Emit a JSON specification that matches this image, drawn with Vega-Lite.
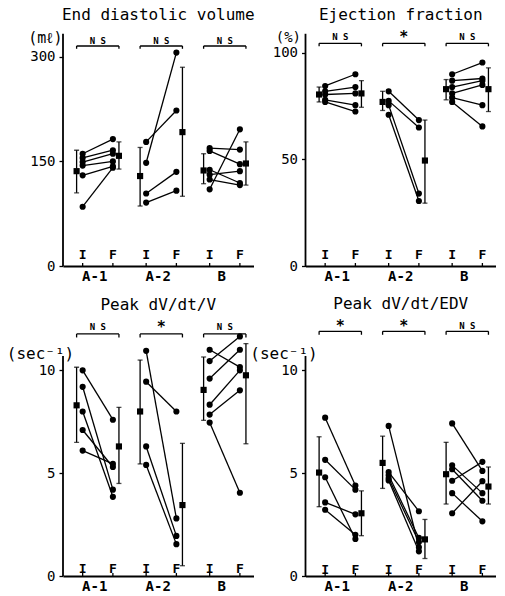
{
  "$schema": "https://vega.github.io/schema/vega-lite/v6.json",
  "padding": {"left": 6, "top": 7, "right": 0, "bottom": 0},
  "config": {
    "view": {"stroke": null},
    "font": "DejaVu Sans Mono",
    "title": {"font": "DejaVu Sans Mono", "fontSize": 16, "fontWeight": "normal", "color": "black", "offset": 7, "anchor": "middle", "frame": "group"},
    "axis": {"labelFont": "DejaVu Sans Mono", "labelColor": "black", "titleFont": "DejaVu Sans Mono", "titleColor": "black", "grid": false},
    "axisX": {"ticks": false, "domainColor": "black", "domainWidth": 1.8, "labelFontSize": 14, "labelFontWeight": "bold", "labelPadding": 3, "labelAngle": 0},
    "axisY": {"domain": false, "tickSize": 4, "tickWidth": 1.3, "tickColor": "black", "labelFontSize": 14, "labelPadding": 4, "titleAngle": 0, "titleBaseline": "middle", "titleFontSize": 15, "titleFontWeight": "normal"},
    "line": {"color": "black", "strokeWidth": 1.3},
    "rule": {"color": "black", "strokeWidth": 1.3},
    "circle": {"color": "black", "opacity": 1, "size": 38},
    "square": {"color": "black", "opacity": 1, "size": 38},
    "tick": {"color": "black", "thickness": 1.3},
    "text": {"font": "DejaVu Sans Mono", "color": "black"}
  },
  "datasets": {
    "ends": [
      {"g": "A-1", "ph": "mI"}, {"g": "A-1", "ph": "mF"},
      {"g": "A-2", "ph": "mI"}, {"g": "A-2", "ph": "mF"},
      {"g": "B", "ph": "mI"}, {"g": "B", "ph": "mF"}
    ],
    "phases": [
      {"g": "A-1", "ph": "I", "lab": "I"}, {"g": "A-1", "ph": "F", "lab": "F"},
      {"g": "A-2", "ph": "I", "lab": "I"}, {"g": "A-2", "ph": "F", "lab": "F"},
      {"g": "B", "ph": "I", "lab": "I"}, {"g": "B", "ph": "F", "lab": "F"}
    ],
    "edv_pts": [
      {"id": "1a", "g": "A-1", "ph": "I", "v": 161}, {"id": "1a", "g": "A-1", "ph": "F", "v": 182},
      {"id": "1b", "g": "A-1", "ph": "I", "v": 155}, {"id": "1b", "g": "A-1", "ph": "F", "v": 166},
      {"id": "1c", "g": "A-1", "ph": "I", "v": 149}, {"id": "1c", "g": "A-1", "ph": "F", "v": 161},
      {"id": "1d", "g": "A-1", "ph": "I", "v": 144}, {"id": "1d", "g": "A-1", "ph": "F", "v": 150},
      {"id": "1e", "g": "A-1", "ph": "I", "v": 130}, {"id": "1e", "g": "A-1", "ph": "F", "v": 143},
      {"id": "1f", "g": "A-1", "ph": "I", "v": 85}, {"id": "1f", "g": "A-1", "ph": "F", "v": 141},
      {"id": "2a", "g": "A-2", "ph": "I", "v": 178}, {"id": "2a", "g": "A-2", "ph": "F", "v": 223},
      {"id": "2b", "g": "A-2", "ph": "I", "v": 148}, {"id": "2b", "g": "A-2", "ph": "F", "v": 306},
      {"id": "2c", "g": "A-2", "ph": "I", "v": 104}, {"id": "2c", "g": "A-2", "ph": "F", "v": 135},
      {"id": "2d", "g": "A-2", "ph": "I", "v": 91}, {"id": "2d", "g": "A-2", "ph": "F", "v": 108},
      {"id": "3a", "g": "B", "ph": "I", "v": 169}, {"id": "3a", "g": "B", "ph": "F", "v": 167},
      {"id": "3b", "g": "B", "ph": "I", "v": 165}, {"id": "3b", "g": "B", "ph": "F", "v": 146},
      {"id": "3c", "g": "B", "ph": "I", "v": 138}, {"id": "3c", "g": "B", "ph": "F", "v": 119},
      {"id": "3d", "g": "B", "ph": "I", "v": 131}, {"id": "3d", "g": "B", "ph": "F", "v": 136},
      {"id": "3e", "g": "B", "ph": "I", "v": 124}, {"id": "3e", "g": "B", "ph": "F", "v": 116},
      {"id": "3f", "g": "B", "ph": "I", "v": 110}, {"id": "3f", "g": "B", "ph": "F", "v": 196}
    ],
    "edv_mean": [
      {"g": "A-1", "ph": "mI", "m": 136, "lo": 105, "hi": 166},
      {"g": "A-1", "ph": "mF", "m": 158, "lo": 139, "hi": 178},
      {"g": "A-2", "ph": "mI", "m": 129, "lo": 86, "hi": 170},
      {"g": "A-2", "ph": "mF", "m": 192, "lo": 100, "hi": 285},
      {"g": "B", "ph": "mI", "m": 137, "lo": 118, "hi": 161},
      {"g": "B", "ph": "mF", "m": 147, "lo": 116, "hi": 178}
    ],
    "edv_sig": [
      {"g": "A-1", "ph": "mid", "lab": "N S"}, {"g": "A-2", "ph": "mid", "lab": "N S"}, {"g": "B", "ph": "mid", "lab": "N S"}
    ],
    "ef_pts": [
      {"id": "1a", "g": "A-1", "ph": "I", "v": 84.5}, {"id": "1a", "g": "A-1", "ph": "F", "v": 90},
      {"id": "1b", "g": "A-1", "ph": "I", "v": 82}, {"id": "1b", "g": "A-1", "ph": "F", "v": 84},
      {"id": "1c", "g": "A-1", "ph": "I", "v": 80.5}, {"id": "1c", "g": "A-1", "ph": "F", "v": 81},
      {"id": "1d", "g": "A-1", "ph": "I", "v": 78}, {"id": "1d", "g": "A-1", "ph": "F", "v": 75.5},
      {"id": "1e", "g": "A-1", "ph": "I", "v": 77}, {"id": "1e", "g": "A-1", "ph": "F", "v": 72.5},
      {"id": "2a", "g": "A-2", "ph": "I", "v": 82}, {"id": "2a", "g": "A-2", "ph": "F", "v": 68.5},
      {"id": "2b", "g": "A-2", "ph": "I", "v": 77.5}, {"id": "2b", "g": "A-2", "ph": "F", "v": 65},
      {"id": "2c", "g": "A-2", "ph": "I", "v": 75.5}, {"id": "2c", "g": "A-2", "ph": "F", "v": 34},
      {"id": "2d", "g": "A-2", "ph": "I", "v": 71}, {"id": "2d", "g": "A-2", "ph": "F", "v": 30.5},
      {"id": "3a", "g": "B", "ph": "I", "v": 90}, {"id": "3a", "g": "B", "ph": "F", "v": 95.5},
      {"id": "3b", "g": "B", "ph": "I", "v": 87}, {"id": "3b", "g": "B", "ph": "F", "v": 88},
      {"id": "3c", "g": "B", "ph": "I", "v": 84}, {"id": "3c", "g": "B", "ph": "F", "v": 87},
      {"id": "3d", "g": "B", "ph": "I", "v": 81}, {"id": "3d", "g": "B", "ph": "F", "v": 85},
      {"id": "3e", "g": "B", "ph": "I", "v": 79}, {"id": "3e", "g": "B", "ph": "F", "v": 75.5},
      {"id": "3f", "g": "B", "ph": "I", "v": 77}, {"id": "3f", "g": "B", "ph": "F", "v": 65.5}
    ],
    "ef_mean": [
      {"g": "A-1", "ph": "mI", "m": 80.5, "lo": 77, "hi": 84},
      {"g": "A-1", "ph": "mF", "m": 81, "lo": 74.5, "hi": 87},
      {"g": "A-2", "ph": "mI", "m": 77, "lo": 73, "hi": 82},
      {"g": "A-2", "ph": "mF", "m": 49.5, "lo": 29.5, "hi": 68.5},
      {"g": "B", "ph": "mI", "m": 83, "lo": 78, "hi": 87.5},
      {"g": "B", "ph": "mF", "m": 83, "lo": 72.5, "hi": 93}
    ],
    "ef_sig": [
      {"g": "A-1", "ph": "mid", "lab": "N S"}, {"g": "A-2", "ph": "mid", "lab": "*"}, {"g": "B", "ph": "mid", "lab": "N S"}
    ],
    "v_pts": [
      {"id": "1a", "g": "A-1", "ph": "I", "v": 10.0}, {"id": "1a", "g": "A-1", "ph": "F", "v": 7.6},
      {"id": "1b", "g": "A-1", "ph": "I", "v": 9.2}, {"id": "1b", "g": "A-1", "ph": "F", "v": 4.2},
      {"id": "1c", "g": "A-1", "ph": "I", "v": 8.0}, {"id": "1c", "g": "A-1", "ph": "F", "v": 3.85},
      {"id": "1d", "g": "A-1", "ph": "I", "v": 7.1}, {"id": "1d", "g": "A-1", "ph": "F", "v": 5.3},
      {"id": "1e", "g": "A-1", "ph": "I", "v": 6.1}, {"id": "1e", "g": "A-1", "ph": "F", "v": 5.45},
      {"id": "2a", "g": "A-2", "ph": "I", "v": 10.95}, {"id": "2a", "g": "A-2", "ph": "F", "v": 2.8},
      {"id": "2b", "g": "A-2", "ph": "I", "v": 9.45}, {"id": "2b", "g": "A-2", "ph": "F", "v": 8.0},
      {"id": "2c", "g": "A-2", "ph": "I", "v": 6.3}, {"id": "2c", "g": "A-2", "ph": "F", "v": 1.95},
      {"id": "2d", "g": "A-2", "ph": "I", "v": 5.4}, {"id": "2d", "g": "A-2", "ph": "F", "v": 1.55},
      {"id": "3a", "g": "B", "ph": "I", "v": 11.0}, {"id": "3a", "g": "B", "ph": "F", "v": 10.16},
      {"id": "3b", "g": "B", "ph": "I", "v": 10.45}, {"id": "3b", "g": "B", "ph": "F", "v": 11.65},
      {"id": "3c", "g": "B", "ph": "I", "v": 9.6}, {"id": "3c", "g": "B", "ph": "F", "v": 11.0},
      {"id": "3d", "g": "B", "ph": "I", "v": 8.33}, {"id": "3d", "g": "B", "ph": "F", "v": 10.0},
      {"id": "3e", "g": "B", "ph": "I", "v": 7.85}, {"id": "3e", "g": "B", "ph": "F", "v": 9.03},
      {"id": "3f", "g": "B", "ph": "I", "v": 7.46}, {"id": "3f", "g": "B", "ph": "F", "v": 4.05}
    ],
    "v_mean": [
      {"g": "A-1", "ph": "mI", "m": 8.3, "lo": 6.5, "hi": 10.15},
      {"g": "A-1", "ph": "mF", "m": 6.3, "lo": 4.5, "hi": 8.2},
      {"g": "A-2", "ph": "mI", "m": 8.0, "lo": 5.45, "hi": 10.5},
      {"g": "A-2", "ph": "mF", "m": 3.45, "lo": 0.5, "hi": 6.45},
      {"g": "B", "ph": "mI", "m": 9.05, "lo": 7.57, "hi": 10.65},
      {"g": "B", "ph": "mF", "m": 9.76, "lo": 6.43, "hi": 11.3}
    ],
    "v_sig": [
      {"g": "A-1", "ph": "mid", "lab": "N S"}, {"g": "A-2", "ph": "mid", "lab": "*"}, {"g": "B", "ph": "mid", "lab": "N S"}
    ],
    "r_pts": [
      {"id": "1a", "g": "A-1", "ph": "I", "v": 7.7}, {"id": "1a", "g": "A-1", "ph": "F", "v": 4.4},
      {"id": "1b", "g": "A-1", "ph": "I", "v": 5.65}, {"id": "1b", "g": "A-1", "ph": "F", "v": 4.2},
      {"id": "1c", "g": "A-1", "ph": "I", "v": 4.8}, {"id": "1c", "g": "A-1", "ph": "F", "v": 1.8},
      {"id": "1d", "g": "A-1", "ph": "I", "v": 3.58}, {"id": "1d", "g": "A-1", "ph": "F", "v": 3.0},
      {"id": "1e", "g": "A-1", "ph": "I", "v": 3.22}, {"id": "1e", "g": "A-1", "ph": "F", "v": 2.0},
      {"id": "2a", "g": "A-2", "ph": "I", "v": 7.3}, {"id": "2a", "g": "A-2", "ph": "F", "v": 1.4},
      {"id": "2b", "g": "A-2", "ph": "I", "v": 5.05}, {"id": "2b", "g": "A-2", "ph": "F", "v": 3.15},
      {"id": "2c", "g": "A-2", "ph": "I", "v": 4.9}, {"id": "2c", "g": "A-2", "ph": "F", "v": 1.85},
      {"id": "2d", "g": "A-2", "ph": "I", "v": 4.75}, {"id": "2d", "g": "A-2", "ph": "F", "v": 1.65},
      {"id": "2e", "g": "A-2", "ph": "I", "v": 4.65}, {"id": "2e", "g": "A-2", "ph": "F", "v": 1.2},
      {"id": "3a", "g": "B", "ph": "I", "v": 7.42}, {"id": "3a", "g": "B", "ph": "F", "v": 5.11},
      {"id": "3b", "g": "B", "ph": "I", "v": 5.38}, {"id": "3b", "g": "B", "ph": "F", "v": 4.03},
      {"id": "3c", "g": "B", "ph": "I", "v": 5.19}, {"id": "3c", "g": "B", "ph": "F", "v": 3.66},
      {"id": "3d", "g": "B", "ph": "I", "v": 4.63}, {"id": "3d", "g": "B", "ph": "F", "v": 5.55},
      {"id": "3e", "g": "B", "ph": "I", "v": 4.03}, {"id": "3e", "g": "B", "ph": "F", "v": 2.66},
      {"id": "3f", "g": "B", "ph": "I", "v": 3.05}, {"id": "3f", "g": "B", "ph": "F", "v": 4.61}
    ],
    "r_mean": [
      {"g": "A-1", "ph": "mI", "m": 5.03, "lo": 3.37, "hi": 6.77},
      {"g": "A-1", "ph": "mF", "m": 3.05, "lo": 1.96, "hi": 4.14},
      {"g": "A-2", "ph": "mI", "m": 5.5, "lo": 4.26, "hi": 6.8},
      {"g": "A-2", "ph": "mF", "m": 1.78, "lo": 0.85, "hi": 2.75},
      {"g": "B", "ph": "mI", "m": 4.95, "lo": 3.5, "hi": 6.5},
      {"g": "B", "ph": "mF", "m": 4.35, "lo": 3.5, "hi": 5.3}
    ],
    "r_sig": [
      {"g": "A-1", "ph": "mid", "lab": "*"}, {"g": "A-2", "ph": "mid", "lab": "*"}, {"g": "B", "ph": "mid", "lab": "N S"}
    ]
  },
  "columns": 2,
  "bounds": "flush",
  "spacing": {"column": 51.5, "row": 55},
  "concat": [
    {
      "width": 190.5, "height": 235,
      "title": {"text": "End diastolic volume"},
      "encoding": {
        "x": {"field": "g", "type": "nominal", "scale": {"domain": ["A-1", "A-2", "B"], "paddingInner": 0, "paddingOuter": 0}, "axis": {"title": null}},
        "xOffset": {"field": "ph", "type": "nominal", "scale": {"domain": ["0","1","2","3","mI","5","I","7","8","9","10","mid","12","13","14","15","F","17","mF","19","20"], "paddingInner": 0, "paddingOuter": 0}}
      },
      "layer": [
        {"data": {"name": "edv_pts"}, "mark": "line",
         "encoding": {"y": {"field": "v", "type": "quantitative", "scale": {"domain": [0, 337], "nice": false, "zero": false},
           "axis": {"values": [0, 150, 300], "title": "(mℓ)", "titleAlign": "right", "titleX": -1, "titleY": 6}},
           "detail": {"field": "id"}}},
        {"data": {"name": "edv_pts"}, "mark": "circle", "encoding": {"y": {"field": "v", "type": "quantitative"}}},
        {"data": {"name": "edv_mean"}, "mark": "rule", "encoding": {"y": {"field": "lo", "type": "quantitative"}, "y2": {"field": "hi"}}},
        {"data": {"name": "edv_mean"}, "mark": {"type": "tick", "orient": "horizontal", "size": 5}, "encoding": {"y": {"field": "lo", "type": "quantitative"}}},
        {"data": {"name": "edv_mean"}, "mark": {"type": "tick", "orient": "horizontal", "size": 5}, "encoding": {"y": {"field": "hi", "type": "quantitative"}}},
        {"data": {"name": "edv_mean"}, "mark": "square", "encoding": {"y": {"field": "m", "type": "quantitative"}}},
        {"data": {"name": "ends"}, "mark": "line", "encoding": {"y": {"datum": 315.5}, "detail": {"field": "g"}}},
        {"data": {"name": "ends"}, "mark": "rule", "encoding": {"y": {"datum": 311.5}, "y2": {"datum": 315.5}}},
        {"data": {"name": "edv_sig"}, "mark": {"type": "text", "fontWeight": "bold", "baseline": "middle"},
         "encoding": {"y": {"datum": 322.5}, "text": {"field": "lab"}, "size": {"condition": {"test": "datum.lab === '*'", "value": 15}, "value": 9}}},
        {"data": {"name": "phases"}, "mark": {"type": "text", "fontSize": 13, "fontWeight": "bold", "baseline": "middle"},
         "encoding": {"y": {"datum": 16}, "text": {"field": "lab"}}},
        {"data": {"name": "phases"}, "mark": "rule", "encoding": {"y": {"datum": 0}, "y2": {"datum": 4.3}}},
        {"data": {"values": [{}]}, "mark": {"type": "rule", "strokeWidth": 1.8},
         "encoding": {"x": {"datum": "A-1", "bandPosition": 0}, "xOffset": {"value": 0}, "y": {"datum": 0}, "y2": {"datum": 333}}}
      ]
    },
    {
      "width": 190.5, "height": 235,
      "title": {"text": "Ejection fraction"},
      "encoding": {
        "x": {"field": "g", "type": "nominal", "scale": {"domain": ["A-1", "A-2", "B"], "paddingInner": 0, "paddingOuter": 0}, "axis": {"title": null}},
        "xOffset": {"field": "ph", "type": "nominal", "scale": {"domain": ["0","1","2","3","mI","5","I","7","8","9","10","mid","12","13","14","15","F","17","mF","19","20"], "paddingInner": 0, "paddingOuter": 0}}
      },
      "layer": [
        {"data": {"name": "ef_pts"}, "mark": "line",
         "encoding": {"y": {"field": "v", "type": "quantitative", "scale": {"domain": [0, 110.3], "nice": false, "zero": false},
           "axis": {"values": [0, 50, 100], "title": "(%)", "titleAlign": "right", "titleX": -5, "titleY": 6, "titleFontSize": 14}},
           "detail": {"field": "id"}}},
        {"data": {"name": "ef_pts"}, "mark": "circle", "encoding": {"y": {"field": "v", "type": "quantitative"}}},
        {"data": {"name": "ef_mean"}, "mark": "rule", "encoding": {"y": {"field": "lo", "type": "quantitative"}, "y2": {"field": "hi"}}},
        {"data": {"name": "ef_mean"}, "mark": {"type": "tick", "orient": "horizontal", "size": 5}, "encoding": {"y": {"field": "lo", "type": "quantitative"}}},
        {"data": {"name": "ef_mean"}, "mark": {"type": "tick", "orient": "horizontal", "size": 5}, "encoding": {"y": {"field": "hi", "type": "quantitative"}}},
        {"data": {"name": "ef_mean"}, "mark": "square", "encoding": {"y": {"field": "m", "type": "quantitative"}}},
        {"data": {"name": "ends"}, "mark": "line", "encoding": {"y": {"datum": 104.5}, "detail": {"field": "g"}}},
        {"data": {"name": "ends"}, "mark": "rule", "encoding": {"y": {"datum": 103.1}, "y2": {"datum": 104.5}}},
        {"data": {"name": "ef_sig"}, "mark": {"type": "text", "fontWeight": "bold", "baseline": "middle"},
         "encoding": {"y": {"datum": 107.3}, "text": {"field": "lab"}, "size": {"condition": {"test": "datum.lab === '*'", "value": 15}, "value": 9}}},
        {"data": {"name": "phases"}, "mark": {"type": "text", "fontSize": 13, "fontWeight": "bold", "baseline": "middle"},
         "encoding": {"y": {"datum": 5.2}, "text": {"field": "lab"}}},
        {"data": {"name": "phases"}, "mark": "rule", "encoding": {"y": {"datum": 0}, "y2": {"datum": 1.4}}},
        {"data": {"values": [{}]}, "mark": {"type": "rule", "strokeWidth": 1.8},
         "encoding": {"x": {"datum": "A-1", "bandPosition": 0}, "xOffset": {"value": 0}, "y": {"datum": 0}, "y2": {"datum": 109}}}
      ]
    },
    {
      "width": 190.5, "height": 255,
      "title": {"text": "Peak dV/dt/V"},
      "encoding": {
        "x": {"field": "g", "type": "nominal", "scale": {"domain": ["A-1", "A-2", "B"], "paddingInner": 0, "paddingOuter": 0}, "axis": {"title": null}},
        "xOffset": {"field": "ph", "type": "nominal", "scale": {"domain": ["0","1","2","3","mI","5","I","7","8","9","10","mid","12","13","14","15","F","17","mF","19","20"], "paddingInner": 0, "paddingOuter": 0}}
      },
      "layer": [
        {"data": {"name": "v_pts"}, "mark": "line",
         "encoding": {"y": {"field": "v", "type": "quantitative", "scale": {"domain": [0, 12.4], "nice": false, "zero": false},
           "axis": {"values": [0, 5, 10], "title": "(sec⁻¹)", "titleAlign": "center", "titleX": -23, "titleY": 32, "titleFontSize": 16}},
           "detail": {"field": "id"}}},
        {"data": {"name": "v_pts"}, "mark": "circle", "encoding": {"y": {"field": "v", "type": "quantitative"}}},
        {"data": {"name": "v_mean"}, "mark": "rule", "encoding": {"y": {"field": "lo", "type": "quantitative"}, "y2": {"field": "hi"}}},
        {"data": {"name": "v_mean"}, "mark": {"type": "tick", "orient": "horizontal", "size": 5}, "encoding": {"y": {"field": "lo", "type": "quantitative"}}},
        {"data": {"name": "v_mean"}, "mark": {"type": "tick", "orient": "horizontal", "size": 5}, "encoding": {"y": {"field": "hi", "type": "quantitative"}}},
        {"data": {"name": "v_mean"}, "mark": "square", "encoding": {"y": {"field": "m", "type": "quantitative"}}},
        {"data": {"name": "ends"}, "mark": "line", "encoding": {"y": {"datum": 11.77}, "detail": {"field": "g"}}},
        {"data": {"name": "ends"}, "mark": "rule", "encoding": {"y": {"datum": 11.6}, "y2": {"datum": 11.77}}},
        {"data": {"name": "v_sig"}, "mark": {"type": "text", "fontWeight": "bold", "baseline": "middle"},
         "encoding": {"y": {"datum": 12.1}, "text": {"field": "lab"}, "size": {"condition": {"test": "datum.lab === '*'", "value": 15}, "value": 9}}},
        {"data": {"name": "phases"}, "mark": {"type": "text", "fontSize": 13, "fontWeight": "bold", "baseline": "middle"},
         "encoding": {"y": {"datum": 0.33}, "text": {"field": "lab"}}},
        {"data": {"name": "phases"}, "mark": "rule", "encoding": {"y": {"datum": 0}, "y2": {"datum": 0.15}}},
        {"data": {"values": [{}]}, "mark": {"type": "rule", "strokeWidth": 1.8},
         "encoding": {"x": {"datum": "A-1", "bandPosition": 0}, "xOffset": {"value": 0}, "y": {"datum": 0}, "y2": {"datum": 10.7}}}
      ]
    },
    {
      "width": 190.5, "height": 255,
      "title": {"text": "Peak dV/dt/EDV"},
      "encoding": {
        "x": {"field": "g", "type": "nominal", "scale": {"domain": ["A-1", "A-2", "B"], "paddingInner": 0, "paddingOuter": 0}, "axis": {"title": null}},
        "xOffset": {"field": "ph", "type": "nominal", "scale": {"domain": ["0","1","2","3","mI","5","I","7","8","9","10","mid","12","13","14","15","F","17","mF","19","20"], "paddingInner": 0, "paddingOuter": 0}}
      },
      "layer": [
        {"data": {"name": "r_pts"}, "mark": "line",
         "encoding": {"y": {"field": "v", "type": "quantitative", "scale": {"domain": [0, 12.4], "nice": false, "zero": false},
           "axis": {"values": [0, 5, 10], "title": "(sec⁻¹)", "titleAlign": "center", "titleX": -22, "titleY": 32, "titleFontSize": 16}},
           "detail": {"field": "id"}}},
        {"data": {"name": "r_pts"}, "mark": "circle", "encoding": {"y": {"field": "v", "type": "quantitative"}}},
        {"data": {"name": "r_mean"}, "mark": "rule", "encoding": {"y": {"field": "lo", "type": "quantitative"}, "y2": {"field": "hi"}}},
        {"data": {"name": "r_mean"}, "mark": {"type": "tick", "orient": "horizontal", "size": 5}, "encoding": {"y": {"field": "lo", "type": "quantitative"}}},
        {"data": {"name": "r_mean"}, "mark": {"type": "tick", "orient": "horizontal", "size": 5}, "encoding": {"y": {"field": "hi", "type": "quantitative"}}},
        {"data": {"name": "r_mean"}, "mark": "square", "encoding": {"y": {"field": "m", "type": "quantitative"}}},
        {"data": {"name": "ends"}, "mark": "line", "encoding": {"y": {"datum": 11.9}, "detail": {"field": "g"}}},
        {"data": {"name": "ends"}, "mark": "rule", "encoding": {"y": {"datum": 11.73}, "y2": {"datum": 11.9}}},
        {"data": {"name": "r_sig"}, "mark": {"type": "text", "fontWeight": "bold", "baseline": "middle"},
         "encoding": {"y": {"datum": 12.15}, "text": {"field": "lab"}, "size": {"condition": {"test": "datum.lab === '*'", "value": 15}, "value": 9}}},
        {"data": {"name": "phases"}, "mark": {"type": "text", "fontSize": 13, "fontWeight": "bold", "baseline": "middle"},
         "encoding": {"y": {"datum": 0.3}, "text": {"field": "lab"}}},
        {"data": {"name": "phases"}, "mark": "rule", "encoding": {"y": {"datum": 0}, "y2": {"datum": 0.15}}},
        {"data": {"values": [{}]}, "mark": {"type": "rule", "strokeWidth": 1.8},
         "encoding": {"x": {"datum": "A-1", "bandPosition": 0}, "xOffset": {"value": 0}, "y": {"datum": 0}, "y2": {"datum": 10.7}}}
      ]
    }
  ]
}
